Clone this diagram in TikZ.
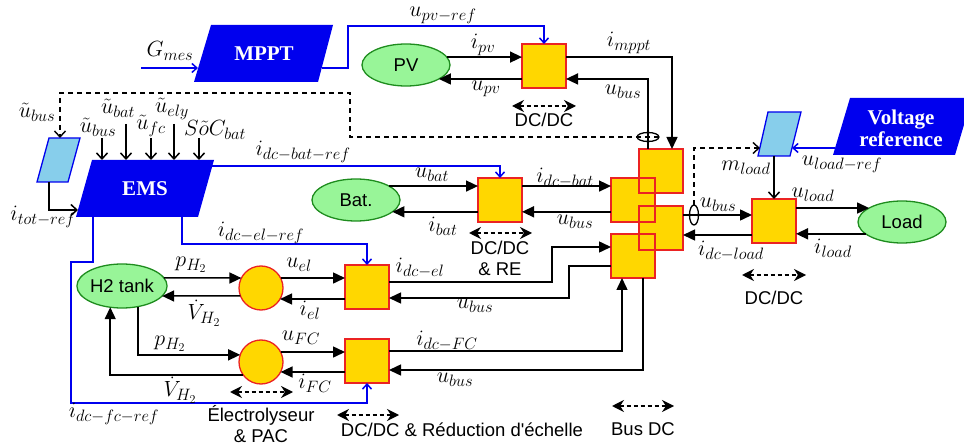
\RequirePackage{fix-cm}
\documentclass[tikz,border=0pt]{standalone}
\usepackage{fontspec}
\newfontfamily\lsans{Liberation Sans}
\newfontfamily\lserif{Liberation Serif}
\DeclareMathSizes{22}{22}{16.5}{12}
\usetikzlibrary{arrows.meta,shapes.geometric,calc}
\definecolor{gold}{RGB}{255,215,0}
\definecolor{rd}{RGB}{235,35,35}
\definecolor{lg}{RGB}{152,245,152}
\definecolor{dg}{RGB}{30,140,30}
\definecolor{bl}{RGB}{0,0,238}
\definecolor{sky}{RGB}{135,206,235}
\tikzset{
 ln/.style={line width=1.5pt},
 arr/.style={ln,-{Triangle[length=12pt,width=11pt]}},
 oarr/.style={ln,-{Straight Barb[length=6pt,width=11pt]}},
 barr/.style={line width=1.5pt, draw=bl, -{Straight Barb[length=5pt,width=9pt]}},
 dl/.style={line width=1.4pt, dash pattern=on 5pt off 4pt, -{Straight Barb[length=6pt,width=11pt]}},
 darr/.style={line width=1.4pt, dash pattern=on 4pt off 3pt, {Stealth[length=12pt,width=12pt]}-{Stealth[length=12pt,width=12pt]}},
 sq/.style={draw=rd, fill=gold, line width=1.3pt, minimum size=44pt, inner sep=0pt, outer sep=0pt},
 sqf/.style={fill=gold, minimum size=44pt, inner sep=0pt, outer sep=0pt},
 sqo/.style={draw=rd, line width=1.3pt},
 ell/.style={ellipse, draw=dg, fill=lg, line width=1.3pt, minimum width=88pt, minimum height=42pt, inner sep=0pt, outer sep=0pt, font=\lsans\fontsize{18.5}{20}\selectfont},
 circ/.style={circle, draw=rd, fill=gold, line width=1.3pt, minimum size=44pt, inner sep=0pt, outer sep=0pt},
 sens/.style={ellipse, draw, line width=1.3pt, inner sep=0pt, outer sep=0pt},
 lab/.style={font=\fontsize{22}{24}\selectfont, inner sep=0pt},
 txt/.style={font=\lsans\fontsize{18.5}{21}\selectfont, align=center, inner sep=0pt},
 btxt/.style={font=\lserif\bfseries\fontsize{21}{24}\selectfont, text=white, align=center, inner sep=0pt},
 blk/.style={fill=bl},
 lbl/.style={fill=sky, draw=bl, line width=1.3pt},
}
\begin{document}
\begin{tikzpicture}[x=1pt,y=-1pt]
\useasboundingbox (0,0) rectangle (964,446);

% ---------- blocks ----------
\fill[blk] (211,25) -- (333,25) -- (318,82) -- (194,82) -- cycle;
\node[btxt] (mppt) at (264,54) {MPPT};
\coordinate (mpptin) at (198,68);
\coordinate (mpptout) at (322,68);
\coordinate (gin) at (141,68);

\fill[blk] (92,160) -- (214,160) -- (198,217) -- (76,217) -- cycle;
\node[btxt] (emstxt) at (145,189) {EMS};
\node[minimum width=122pt, minimum height=57pt, inner sep=0pt, outer sep=0pt] (ems) at (145,188.5) {};
\coordinate (emsleft) at (78,210);
\coordinate (emsright) at (212,166);

\filldraw[lbl] (49,138) -- (80,138) -- (68,182) -- (37,182) -- cycle;
\coordinate (lbatop) at (60,138);
\coordinate (lbabot) at (49,182);

\filldraw[lbl] (768,112) -- (801,112) -- (790,156) -- (758,156) -- cycle;
\coordinate (lbbleft) at (760,148);
\coordinate (lbbright) at (792,148);
\coordinate (lbbbot) at (774,156);

\fill[blk] (850,98) -- (972,98) -- (955,155) -- (833,155) -- cycle;
\node[btxt] (vref) at (901,128) {Voltage\\[-2pt]reference};
\coordinate (vrefin) at (835,148);

% converters
\node[sq] (pvc) at (544,66) {};
\node[sq] (batc) at (500,200) {};
\node[sq] (elc) at (367,287) {};
\node[sq] (fcc) at (367,361) {};
\node[sq] (loadc) at (774,221) {};

% bus
\node[sqf] (bA) at (661,171) {};
\node[sqf] (bB) at (633,200) {};
\node[sqf] (bC) at (661,228) {};
\node[sqf] (bD) at (633,256) {};
\foreach \b in {bA,bB,bC,bD} \draw[sqo] (\b.south west) rectangle (\b.north east);

% sources / loads
\node[ell] (pv) at (406,65) {PV};
\node[ell] (bat) at (356,200) {Bat.};
\node[ell] (ld) at (902,222) {Load};
\node[ell, minimum height=44pt] (h2) at (122,286) {H2 tank};
\node[circ] (elk) at (261,288) {};
\node[circ] (fck) at (261,362) {};

% ---------- MPPT / PV ----------
\draw[barr] (gin) -- (mpptin);
\node[lab] at (170,51) {$G_{mes}$};
\draw[barr] (mpptout) -- (348,68) -- (348,26) -| (pvc.north);
\node[lab] at (443,15) {$u_{pv-ref}$};

\draw[arr] (pv.11) -- (pv.11 -| pvc.west);
\node[lab] at (483,45) {$i_{pv}$};
\draw[arr] (pv.-23 -| pvc.west) -- (pv.-23);
\node[lab] at (486,89) {$u_{pv}$};
\draw[arr] (pv.11 -| pvc.east) -| ($(bA.north)+(11,0)$);
\node[lab] at (629,43) {$i_{mppt}$};
\draw[arr] ($(bA.north)+(-13,0)$) |- (pv.-23 -| pvc.east);
\node[lab] at (623,92) {$u_{bus}$};
\node[sens, minimum width=22pt, minimum height=9pt] (s1) at (648,137) {};
\draw[dl] (s1.east) -- (350,137) -- (350,93) -- (60,93) -- (lbatop);
\node[lab] at (37,112) {$\tilde{u}_{bus}$};
\draw[darr] (512,106) -- (576,106);
\node[txt] at (544,120) {DC/DC};

% ---------- EMS ----------
\draw[oarr] (lbabot) |- (emsleft);
\node[lab] at (43,217) {$i_{tot-ref}$};
\draw[oarr] (102,138) -- (ems.north -| 102,0);
\node[lab] at (98,127) {$\tilde{u}_{bus}$};
\draw[oarr] (126,124) -- (ems.north -| 126,0);
\node[lab] at (118,108) {$\tilde{u}_{bat}$};
\draw[oarr] (151,138) -- (ems.north -| 151,0);
\node[lab] at (151,126) {$\tilde{u}_{fc}$};
\draw[oarr] (174,124) -- (ems.north -| 174,0);
\node[lab] at (172,109) {$\tilde{u}_{ely}$};
\draw[oarr] (199,138) -- (ems.north -| 199,0);
\node[lab] at (215,130) {$S\tilde{o}C_{bat}$};

\draw[barr] (emsright) -| (batc.north);
\node[lab] at (303,152) {$i_{dc-bat-ref}$};
\draw[barr] (ems.south -| 182,0) -- (182,244) -| (elc.north);
\node[lab] at (261,233) {$i_{dc-el-ref}$};
\draw[barr] (ems.south -| 93,0) -- (93,262) -- (71,262) -- (71,403) -| (fcc.south);
\node[lab] at (114,414) {$i_{dc-fc-ref}$};

% ---------- battery ----------
\draw[arr] (bat.23) -- (bat.23 -| batc.west);
\node[lab] at (432,175) {$u_{bat}$};
\draw[arr] (bat.-18 -| batc.west) -- (bat.-18);
\node[lab] at (443,226) {$i_{bat}$};
\draw[arr] (bat.23 -| batc.east) -- (bat.23 -| bB.west);
\node[lab] at (565,178) {$i_{dc-bat}$};
\draw[arr] (bat.-18 -| bB.west) -- (bat.-18 -| batc.east);
\node[lab] at (575,222) {$u_{bus}$};
\draw[darr] (469,233) -- (532,233);
\node[txt] at (500,258) {DC/DC\\\& RE};

% ---------- hydrogen ----------
\draw[arr] (h2.11) -- (elk.153);
\node[lab] at (191,265) {$p_{H_2}$};
\draw[arr] (elk.201) -- (h2.-14);
\node[lab] at (204,313) {$\dot{V}_{H_2}$};
\draw[arr] (h2.-52) |- (fck.161);
\node[lab] at (170,344) {$p_{H_2}$};
\draw[arr] (fck.216) -| (h2.-119.5);
\node[lab] at (180,390) {$\dot{V}_{H_2}$};
\draw[darr] (230,392) -- (293,392);
\node[txt] at (261,424) {\'Electrolyseur\\\& PAC};

\draw[arr] (elk.27) -- (elk.27 -| elc.west);
\node[lab] at (299,265) {$u_{el}$};
\draw[arr] (elk.-30 -| elc.west) -- (elk.-30);
\node[lab] at (310,310) {$i_{el}$};
\draw[arr] (fck.27) -- (fck.27 -| fcc.west);
\node[lab] at (301,338) {$u_{FC}$};
\draw[arr] (fck.-27 -| fcc.west) -- (fck.-27);
\node[lab] at (315,383) {$i_{FC}$};

\draw[arr] (elc.east |- 0,282) -- (552,282) -- (552,247) -- (bD.west |- 0,247);
\node[lab] at (420,268) {$i_{dc-el}$};
\draw[arr] (bD.west |- 0,266) -- (569,266) -- (569,298) -- (elc.east |- 0,298);
\node[lab] at (475,306) {$u_{bus}$};
\draw[arr] (fcc.east |- 0,351) -| (bD.south -| 622,0);
\node[lab] at (447,341) {$i_{dc-FC}$};
\draw[arr] (bD.south -| 643,0) |- (fcc.east |- 0,370);
\node[lab] at (455,380) {$u_{bus}$};
\draw[darr] (337,415) -- (399,415);
\node[txt] at (462,430) {DC/DC \& R\'eduction d\textquotesingle\'echelle};
\draw[darr] (612,406) -- (674,406);
\node[txt] at (643,429) {Bus DC};

% ---------- load ----------
\draw[arr] (bC.east |- 0,215) -- (loadc.west |- 0,215);
\node[lab] at (718,205) {$u_{bus}$};
\draw[arr] (loadc.west |- 0,235) -- (bC.east |- 0,235);
\node[lab] at (731,251) {$i_{dc-load}$};
\node[sens, minimum width=9pt, minimum height=20pt] (s2) at (694,215) {};
\draw[dl] (s2.north) -- (694,148) -- (lbbleft);
\draw[oarr] (lbbbot) -- (loadc.north);
\node[lab] at (746,168) {$m_{load}$};
\draw[barr] (vrefin) -- (lbbright);
\node[lab] at (842,164) {$u_{load-ref}$};
\draw[arr] (ld.157 -| loadc.east) -- (ld.157);
\node[lab] at (813,195) {$u_{load}$};
\draw[arr] (ld.198) -- (ld.198 -| loadc.east);
\node[lab] at (833,248) {$i_{load}$};
\draw[darr] (742,275) -- (806,275);
\node[txt] at (774,298) {DC/DC};
\end{tikzpicture}
\end{document}
